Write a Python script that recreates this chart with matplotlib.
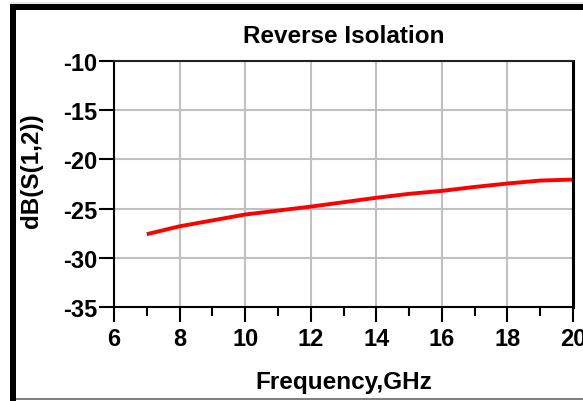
import numpy as np
import matplotlib.pyplot as plt
from matplotlib.patches import Rectangle

# data
freq = [7, 8, 9, 10, 11, 12, 13, 14, 15, 16, 17, 18, 19, 20]
s12_db = [-27.6, -26.8, -26.2, -25.6, -25.2, -24.8, -24.35, -23.9,
          -23.5, -23.2, -22.8, -22.45, -22.15, -22.05]
xticks = [6, 8, 10, 12, 14, 16, 18, 20]
yticks = [-35, -30, -25, -20, -15, -10]

plt.rcParams["font.family"] = ["Liberation Sans", "DejaVu Sans"]
plt.rcParams["font.weight"] = "bold"
plt.rcParams["axes.unicode_minus"] = False

W, H = 583, 402
fig = plt.figure(figsize=(W / 100, H / 100), dpi=100)
fig.patch.set_facecolor("white")

# frame around the figure (pixel coords -> figure fraction)
def px_rect(x0, y0, x1, y1, color):
    fig.add_artist(Rectangle((x0 / W, 1 - y1 / H), (x1 - x0) / W, (y1 - y0) / H,
                             transform=fig.transFigure, facecolor=color,
                             edgecolor="none", zorder=0))

px_rect(10, 3, W, 5, "#e8e8e8")
px_rect(10, 5, 16, H, "black")
px_rect(10, 5, W, 11, "black")
px_rect(16, 399, W, 401, "#808080")

ax = fig.add_axes([114 / W, 1 - 308 / H, (573 - 114) / W, (308 - 62) / H])

ax.plot(freq, s12_db, color="red", lw=2.8, solid_capstyle="butt")

ax.set_xlim(6, 20)
ax.set_ylim(-35, -10)
ax.set_xticks(xticks)
ax.set_xticks(np.arange(7, 20, 2), minor=True)
ax.set_yticks(yticks)
ax.grid(True, which="major", color="#c0c0c0", lw=1.5)
ax.set_axisbelow(True)

ax.tick_params(axis="both", which="major", direction="out", length=10.5,
               width=1.5, labelsize=17, color="black")
ax.tick_params(axis="x", which="minor", direction="out", length=6.5, width=1.5)
ax.tick_params(axis="x", which="major", pad=4)
ax.tick_params(axis="y", which="major", pad=1.5)
for lab in ax.get_xticklabels() + ax.get_yticklabels():
    lab.set_fontweight("bold")

for side in ["left", "bottom", "top"]:
    ax.spines[side].set_linewidth(1.5)
ax.spines["top"].set_color("#222222")
ax.spines["right"].set_linewidth(2.2)

ax.set_title("Reverse Isolation", fontsize=17.5, fontweight="bold", pad=14)
ax.set_xlabel("Frequency,GHz", fontsize=17.5, fontweight="bold", labelpad=14)
ax.set_ylabel("dB(S(1,2))", fontsize=17.5, fontweight="bold")
ax.yaxis.set_label_coords(-0.155, 0.56)

fig.savefig("out.png", dpi=100)
